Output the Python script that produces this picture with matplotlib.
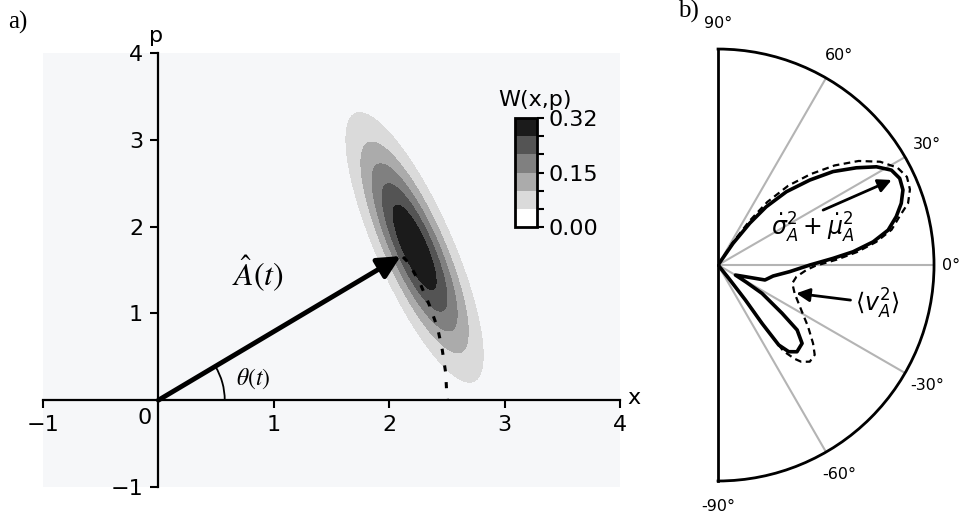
import numpy as np
import matplotlib
matplotlib.use('Agg')
import matplotlib.pyplot as plt
from matplotlib.colors import ListedColormap, BoundaryNorm
from matplotlib.cm import ScalarMappable
from matplotlib.patches import Arc

# panel a) Wigner function of a Gaussian state
w_peak = 0.318
w_center = [2.22, 1.76]
w_cov = [[0.099, -0.207], [-0.207, 0.675]]
w_levels = [0.0, 0.0533, 0.1067, 0.16, 0.2133, 0.2667, 0.32]
w_colors = ['#ffffff', '#dadada', '#ababab', '#808080', '#545454', '#1b1b1b']
cbar_labels = ['0.00', '', '', '0.15', '', '', '0.32']

arrow_tip = [2.10, 1.66]
path_x = [2.12, 2.17, 2.27, 2.35, 2.42, 2.46, 2.49, 2.50, 2.505]
path_y = [1.65, 1.58, 1.34, 1.09, 0.83, 0.58, 0.31, 0.04, 0.0]

x_ticks = [-1, 1, 2, 3, 4]
y_ticks = [-1, 1, 2, 3, 4]

# panel b) polar curves, angle in degrees and radius
solid_theta = [56, 55.3, 52.8, 50.4, 47.0, 42.8, 39.1, 35.1, 31.8, 28.7, 25.5,
               22.1, 18.6, 15.2, 11.6, 8.5, 5.6, 3.3, 0.0, -5.3, -11.3, -17.7,
               -21.3, -30.0, -31.3, -32.8, -37.0, -39.4, -43.0, -47.7, -50.8,
               -52.8, -53.0, -52.0, -51.2, -50]
solid_r = [0, 0.122, 0.243, 0.350, 0.464, 0.579, 0.686, 0.783, 0.863, 0.915, 0.932,
           0.924, 0.895, 0.855, 0.804, 0.726, 0.628, 0.533, 0.425, 0.333, 0.260, 0.228,
           0.159, 0.093, 0.152, 0.242, 0.371, 0.474, 0.532, 0.543, 0.518,
           0.465, 0.338, 0.205, 0.079, 0]
dashed_theta = [58, 57, 54.5, 52, 48.5, 44.5, 40.5, 36.5, 32.5, 28.5, 25, 21.5,
                18, 15, 11.5, 8.3, 5.3, 2.6, -0.5, -3.2, -8.5, -13.8, -20.3, -28.4,
                -34.4, -39.5, -42.9, -46.5, -49.3, -50.8, -52.8, -53.0, -52.0,
                -51.2, -50]
dashed_r = [0, 0.12, 0.25, 0.37, 0.49, 0.60, 0.71, 0.81, 0.89, 0.945, 0.965, 0.955,
            0.925, 0.87, 0.82, 0.74, 0.645, 0.55, 0.45, 0.41, 0.367, 0.354, 0.378, 0.438,
            0.505, 0.570, 0.611, 0.617, 0.591, 0.56, 0.50, 0.36, 0.22,
            0.085, 0]
polar_angles = [-90, -60, -30, 0, 30, 60, 90]
polar_labels = ['-90°', '-60°', '-30°', '', '30°', '60°', '90°']
zero_label = '0°'

sigma_tail = [27.6, 0.549]
sigma_head = [26.1, 0.895]
sigma_text = [21.1, 0.471]
v_head = [-19.9, 0.385]
v_tail = [-15.7, 0.657]

plt.rcParams['font.size'] = 16
plt.rcParams['mathtext.fontset'] = 'dejavusans'

fig = plt.figure(figsize=(9.59, 5.13), dpi=100)

# ---- panel a)
ax = fig.add_axes([0.0448, 0.0507, 0.6017, 0.846])
ax.set_facecolor('#f6f7f9')
ax.set_xlim(-1, 4)
ax.set_ylim(-1, 4)
for side in ['left', 'bottom']:
    ax.spines[side].set_position('zero')
    ax.spines[side].set_linewidth(1.6)
ax.spines[['top', 'right']].set_visible(False)
ax.set_xticks(x_ticks)
ax.set_yticks(y_ticks)
ax.tick_params(direction='out', length=6, width=1.5, pad=5)

gx, gy = np.meshgrid(np.linspace(-1, 4, 400), np.linspace(-1, 4, 400))
inv = np.linalg.inv(np.array(w_cov))
dx, dy = gx - w_center[0], gy - w_center[1]
q = inv[0, 0] * dx ** 2 + 2 * inv[0, 1] * dx * dy + inv[1, 1] * dy ** 2
w = w_peak * np.exp(-q / 2)
ax.contourf(gx, gy, w, levels=w_levels[1:], colors=w_colors[1:])

ax.plot(path_x, path_y, color='k', lw=2.2, ls=(0, (2, 3.5)))
ax.annotate('', xy=arrow_tip, xytext=(0, 0),
            arrowprops=dict(arrowstyle='-|>', lw=3.5, color='k',
                            mutation_scale=34, shrinkA=0, shrinkB=0))
ang = np.degrees(np.arctan2(arrow_tip[1], arrow_tip[0]))
ax.add_patch(Arc((0, 0), 1.15, 1.52, theta1=0, theta2=ang, lw=1.3, color='k'))

ax.text(0.86, 1.45, r'$\hat{A}(t)$', fontsize=23, ha='center', va='center',
        math_fontfamily='stix')
ax.text(0.82, 0.25, r'$\theta(t)$', fontsize=17, ha='center', va='center',
        math_fontfamily='stix')
ax.text(-0.12, -0.2, '0', ha='center', va='center')
ax.text(4.12, 0.02, 'x', ha='center', va='center')
ax.text(-0.02, 4.2, 'p', ha='center', va='center')

cax = ax.inset_axes([0.818, 0.599, 0.038, 0.251])
sm = ScalarMappable(norm=BoundaryNorm(w_levels, len(w_colors)),
                    cmap=ListedColormap(w_colors))
cb = fig.colorbar(sm, cax=cax, ticks=w_levels)
cb.set_ticklabels(cbar_labels)
cb.outline.set_linewidth(2)
cax.tick_params(length=5, width=1.5, labelsize=16)
cax.text(0.9, 1.17, 'W(x,p)', ha='center', va='center', transform=cax.transAxes)

# ---- panel b)  polar axes box is kept square, the half disc sits in its middle
axp = fig.add_axes([0.6361, 0.0624, 0.4505, 0.842], projection='polar')
axp.set_thetamin(-90)
axp.set_thetamax(90)
axp.set_rlim(0, 1)
axp.set_rticks([])
axp.set_thetagrids(polar_angles, polar_labels, fontsize=11.5)
axp.tick_params(axis='x', pad=8)
axp.grid(True, color='#b4b4b4', lw=1.5)
for s in axp.spines.values():
    s.set_linewidth(2)
# 0° label pulled in a little so it stays inside the figure
axp.text(0, 1.035, zero_label, fontsize=11.5, ha='left', va='center')

axp.plot(np.radians(dashed_theta), dashed_r, color='k', lw=1.6, ls=(0, (3, 2)))
axp.plot(np.radians(solid_theta), solid_r, color='k', lw=2.6)

axp.annotate('', xy=(np.radians(sigma_head[0]), sigma_head[1]),
             xytext=(np.radians(sigma_tail[0]), sigma_tail[1]),
             arrowprops=dict(arrowstyle='-|>', lw=2, color='k', mutation_scale=20,
                             shrinkA=0, shrinkB=0))
axp.text(np.radians(sigma_text[0]), sigma_text[1],
         r'$\dot{\sigma}_A^2+\dot{\mu}_A^2$', fontsize=17, ha='center', va='center')
axp.annotate(r'$\langle v_A^2\rangle$', xy=(np.radians(v_head[0]), v_head[1]),
             xytext=(np.radians(v_tail[0]), v_tail[1]), fontsize=17,
             ha='left', va='center',
             arrowprops=dict(arrowstyle='-|>', lw=2, color='k', mutation_scale=20,
                             shrinkA=1, shrinkB=0))

fig.text(0.0083, 0.956, 'a)', family='Liberation Serif', fontsize=18, va='center')
fig.text(0.707, 0.977, 'b)', family='Liberation Serif', fontsize=18, va='center')

fig.savefig('out.png', dpi=100)
